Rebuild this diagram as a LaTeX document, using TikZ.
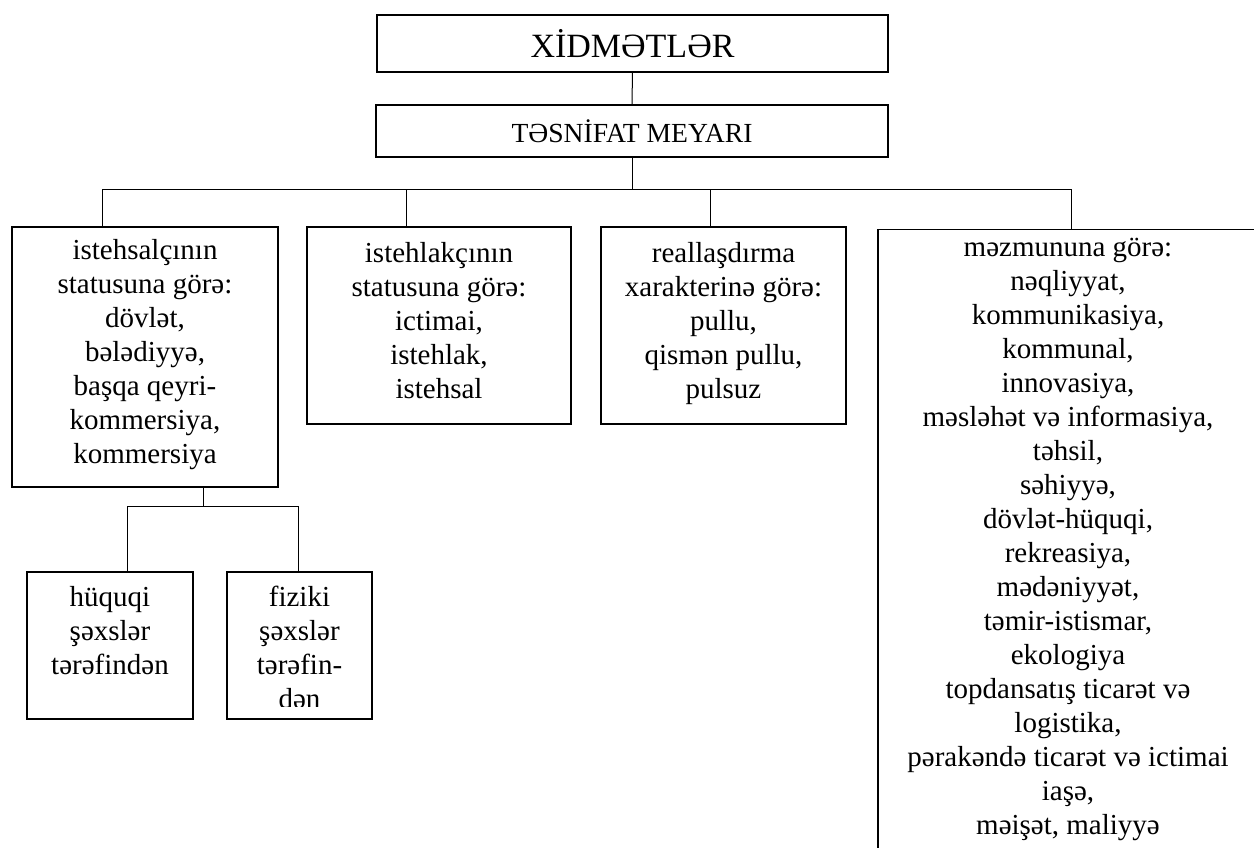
\documentclass[tikz,border=0pt]{standalone}
\usepackage{fontspec}
\setmainfont{Liberation Serif}
\usetikzlibrary{positioning}

\begin{document}
\begin{tikzpicture}[x=0.5pt, y=-0.5pt,
    headbox/.style={draw, line width=0.7pt, inner sep=0pt},
    catbox/.style={draw, line width=0.7pt, align=center, inner xsep=0pt, inner ysep=0pt,
      font=\fontsize{14.5}{17}\selectfont,
      execute at begin node=\strut, execute at end node=\strut},
    subtext/.style={align=center, inner sep=0pt,
      font=\fontsize{14.5}{17}\selectfont,
      execute at begin node=\strut, execute at end node=\strut},
    link/.style={line width=0.5pt}]
        \useasboundingbox (0,0) rectangle (1254,847);
        \clip (0,0) rectangle (1254,847);
        % the two boxes on top
        \node[headbox, minimum width=255.5pt, minimum height=28.5pt,
              font=\fontsize{17}{20.4}\selectfont] (xidmet) at (632.5,43.5) {XİDMƏTLƏR};
        \node[headbox, minimum width=256pt, minimum height=26pt,
              font=\fontsize{13.8}{16.5}\selectfont] (meyar)  at (632,131)    {TƏSNİFAT MEYARI};
        % the four kinds of service
        \node[catbox, minimum width=133pt,   minimum height=130pt]  (istehsal) at (145,357)
              {istehsalçının\\statusuna görə:\\dövlət,\\bələdiyyə,\\başqa qeyri-\\kommersiya,\\kommersiya};
        \node[catbox, minimum width=132pt,   minimum height=98.5pt] (istehlak) at (439,325.5)
              {istehlakçının\\statusuna görə:\\ictimai,\\istehlak,\\istehsal};
        \node[catbox, minimum width=122.5pt, minimum height=98.5pt] (real)     at (723.5,325.5)
              {reallaşdırma\\xarakterinə görə:\\pullu,\\qismən pullu,\\pulsuz};
        \node[catbox, minimum width=190pt, inner ysep=4.1pt, anchor=north] (mezmun) at (1068,229)
              {məzmununa görə:\\nəqliyyat,\\kommunikasiya,\\kommunal,\\innovasiya,\\məsləhət və informasiya,\\təhsil,\\səhiyyə,\\dövlət-hüquqi,\\rekreasiya,\\mədəniyyət,\\təmir-istismar,\\ekologiya\\topdansatış ticarət və\\logistika,\\pərakəndə ticarət və ictimai\\iaşə,\\məişət, maliyyə};
        % the two boxes under the first one
        \node[headbox, minimum width=83pt,   minimum height=73.5pt] (hukuqi) at (110,645.5) {};
        \node[headbox, minimum width=72.5pt, minimum height=73.5pt] (fiziki) at (299.5,645.5) {};
        \node[subtext, below=7.1pt of hukuqi.north] (hukuqitext) {hüquqi\\şəxslər\\tərəfindən};
        \begin{scope}
          \clip (fiziki.north west) rectangle ([yshift=6.5pt]fiziki.south east);
          \node[subtext, below=7.1pt of fiziki.north] (fizikitext) {fiziki\\şəxslər\\tərəfin-\\dən};
        \end{scope}
        % coordinates for the lines
        \coordinate (bus1) at (102,189);
        \coordinate (bus2) at (406,189);
        \coordinate (bus3) at (710,189);
        \coordinate (bus4) at (1071,189);
        \coordinate (sub)      at (203,506);
        \coordinate (subleft)  at (127,506);
        \coordinate (subright) at (298,506);
        % drawing the lines
        \draw[link] (xidmet) -- (meyar);
        \draw[link] (meyar) -- (meyar |- bus1);
        \draw[link] (bus1) -- (bus4);
        \foreach \i/\b in {1/istehsal, 2/istehlak, 3/real, 4/mezmun}
          \draw[link] (bus\i) -- (bus\i |- \b.north);
        \draw[link] (sub |- istehsal.south) -- (sub);
        \draw[link] (subleft) -- (subright);
        \draw[link] (subleft)  -- (subleft |- hukuqi.north);
        \draw[link] (subright) -- (subright |- fiziki.north);
\end{tikzpicture}
\end{document}
